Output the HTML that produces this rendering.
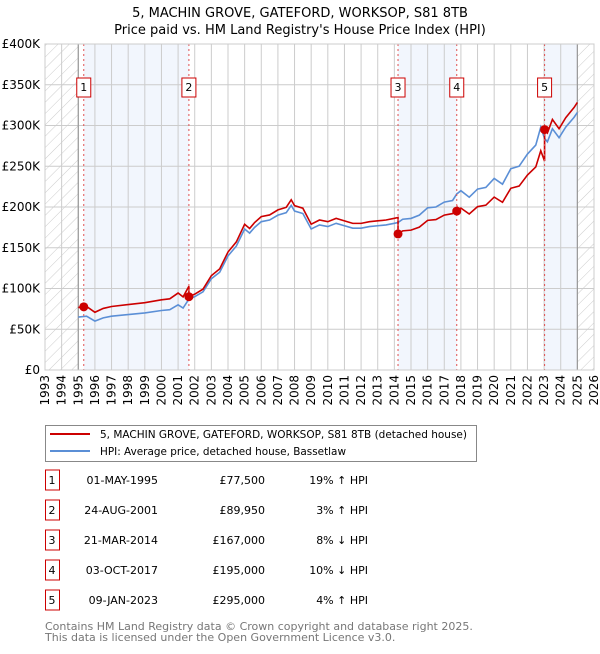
<!DOCTYPE html>
<html><head><meta charset="utf-8"><style>
body{margin:0;background:#fff;font-family:"DejaVu Sans","Liberation Sans",sans-serif;}
svg text{font-family:"DejaVu Sans","Liberation Sans",sans-serif;}
</style></head><body>
<svg id="c" width="600" height="650" xmlns="http://www.w3.org/2000/svg">
<defs><pattern id="hatch" width="8" height="8" patternUnits="userSpaceOnUse" patternTransform="rotate(45)"><line x1="0" y1="0" x2="0" y2="8" stroke="#ccc" stroke-width="1"/></pattern></defs>
<text x="300" y="17" text-anchor="middle" font-size="13" fill="#000">5, MACHIN GROVE, GATEFORD, WORKSOP, S81 8TB</text>
<text x="300" y="34" text-anchor="middle" font-size="13" fill="#000">Price paid vs. HM Land Registry's House Price Index (HPI)</text>
<g id="plot"></g>
<g>
<rect x="45.5" y="425.5" width="431" height="36" fill="#fff" stroke="#888"/>
<line x1="50" y1="434" x2="90" y2="434" stroke="#cc0000" stroke-width="2"/>
<text x="100" y="438" font-size="10.5" textLength="367" lengthAdjust="spacingAndGlyphs">5, MACHIN GROVE, GATEFORD, WORKSOP, S81 8TB (detached house)</text>
<line x1="50" y1="451" x2="90" y2="451" stroke="#5b8fd6" stroke-width="2"/>
<text x="100" y="455" font-size="10.5" textLength="246" lengthAdjust="spacingAndGlyphs">HPI: Average price, detached house, Bassetlaw</text>
</g>
<g id="table"></g>
<text x="45" y="630" font-size="11" fill="#777">Contains HM Land Registry data © Crown copyright and database right 2025.</text>
<text x="45" y="641" font-size="11" fill="#777">This data is licensed under the Open Government Licence v3.0.</text>
</svg>
<script>
const yTicks=[0,50,100,150,200,250,300,350,400];
const yTickLabels=["£0","£50K","£100K","£150K","£200K","£250K","£300K","£350K","£400K"];
const xYears=[1993,1994,1995,1996,1997,1998,1999,2000,2001,2002,2003,2004,2005,2006,2007,2008,2009,2010,2011,2012,2013,2014,2015,2016,2017,2018,2019,2020,2021,2022,2023,2024,2025,2026];
const hpiT=[1995.0,1995.5,1996.0,1996.5,1997,1998,1999,2000,2000.5,2001,2001.3,2001.65,2002,2002.5,2003,2003.5,2004,2004.5,2005,2005.3,2005.6,2006,2006.5,2007,2007.5,2007.8,2008,2008.5,2009,2009.5,2010,2010.5,2011,2011.5,2012,2012.5,2013,2013.5,2014,2014.22,2014.5,2015,2015.5,2016,2016.5,2017,2017.5,2017.75,2018,2018.5,2019,2019.5,2020,2020.5,2021,2021.5,2022,2022.5,2022.8,2023.03,2023.2,2023.5,2023.9,2024.3,2024.8,2025.0];
const hpiV=[65,66,60,64,66,68,70,73,74,80,76,87,90,96,112,120,140,152,173,168,175,182,184,190,193,202,195,192,173,178,176,180,177,174,174,176,177,178,180,181,185,186,190,199,200,206,208,216,220,212,222,224,235,228,247,250,265,276,298,284,280,296,285,298,310,316];
const saleT=[1995.33,2001.65,2014.22,2017.75,2023.03];
const salePrice=[77.5,89.95,167,195,295];
const saleLabels=["1","2","3","4","5"];
const saleDates=["01-MAY-1995","24-AUG-2001","21-MAR-2014","03-OCT-2017","09-JAN-2023"];
const salePriceText=["£77,500","£89,950","£167,000","£195,000","£295,000"];
const saleHpiText=["19% ↑ HPI","3% ↑ HPI","8% ↓ HPI","10% ↓ HPI","4% ↑ HPI"];

const NS="http://www.w3.org/2000/svg";
const X0=45,X1=594,Y0=370,Y1=44;
const xs=t=>X0+(t-1993)/(2026-1993)*(X1-X0);
const ys=v=>Y0-v/400*(Y0-Y1);
function mk(tag,attrs,parent){const e=document.createElementNS(NS,tag);for(const k in attrs)e.setAttribute(k,attrs[k]);parent.appendChild(e);return e;}
const plot=document.getElementById('plot');
const shadeEnds=[saleT[1],saleT[3],2025.0];
[0,2,4].forEach((i,j)=>{const r=mk('rect',{x:xs(saleT[i]),y:Y1,width:xs(shadeEnds[j])-xs(saleT[i]),height:Y0-Y1,fill:'#eef3fc',opacity:0.75},plot);

});
const h1=mk('rect',{x:X0,y:Y1,width:xs(1995)-X0,height:Y0-Y1,fill:'url(#hatch)'},plot);


const h2=mk('rect',{x:xs(2025),y:Y1,width:X1-xs(2025),height:Y0-Y1,fill:'url(#hatch)'},plot);


yTicks.forEach((v,i)=>{const l=mk('line',{x1:X0,x2:X1,y1:ys(v),y2:ys(v),stroke:'#ccc'},plot);


const t=mk('text',{x:40,y:ys(v)+4,'text-anchor':'end','font-size':12},plot);t.textContent=yTickLabels[i];

});
xYears.forEach(yr=>{const l=mk('line',{x1:xs(yr),x2:xs(yr),y1:Y1,y2:Y0,stroke:'#ccc'},plot);


const t=mk('text',{x:0,y:0,'text-anchor':'end','font-size':12,transform:`translate(${xs(yr)+4},375) rotate(-90)`},plot);t.textContent=yr;

});
[1995,2025].forEach(yr=>{const l=mk('line',{x1:xs(yr),x2:xs(yr),y1:Y1,y2:Y0,stroke:'#999','stroke-width':1.2},plot);

});
function hpiAt(t){for(let i=0;i<hpiT.length-1;i++){if(t<=hpiT[i+1])return hpiV[i]+(hpiV[i+1]-hpiV[i])*(t-hpiT[i])/(hpiT[i+1]-hpiT[i]);}return hpiV[hpiV.length-1];}
const hp=mk('polyline',{points:hpiT.map((t,i)=>xs(t)+','+ys(hpiV[i])).join(' '),fill:'none',stroke:'#5b8fd6','stroke-width':1.6},plot);


let pts=[];
for(let s=0;s<saleT.length;s++){
 const start=s===0?1995.0:saleT[s], end=s<saleT.length-1?saleT[s+1]:2025.0;
 const f=salePrice[s]/hpiAt(saleT[s]);
 const ts=[start,...hpiT.filter(t=>t>start&&t<end),end];
 ts.forEach(t=>pts.push(xs(t)+','+ys(hpiAt(t)*f)));
 if(s<saleT.length-1){pts.push(xs(end)+','+ys(salePrice[s+1]));}
}
const rp=mk('polyline',{points:pts.join(' '),fill:'none',stroke:'#cc0000','stroke-width':1.6},plot);


saleT.forEach((t,i)=>{const v=mk('line',{x1:xs(t),x2:xs(t),y1:Y1,y2:Y0,stroke:'#e05050','stroke-dasharray':'2,3','stroke-width':1},plot);


const c=mk('circle',{cx:xs(t),cy:ys(salePrice[i]),r:4.5,fill:'#cc0000'},plot);


const b=mk('rect',{x:xs(t)-7,y:78,width:14,height:19,fill:'#fff',stroke:'#cc0000'},plot);


const tx=mk('text',{x:xs(t),y:91,'text-anchor':'middle','font-size':11},plot);tx.textContent=saleLabels[i];

});
mk('rect',{x:X0,y:Y1,width:X1-X0,height:Y0-Y1,fill:'none',stroke:'#ccc'},plot);
const tb=document.getElementById('table');
saleT.forEach((t,i)=>{const y=483+i*30;
const b=mk('rect',{x:45.5,y:y-13,width:14,height:20,fill:'#fff',stroke:'#cc0000'},tb);


const cells=[[52,'middle',saleLabels[i]],[158,'end',saleDates[i]],[265,'end',salePriceText[i]],[368,'end',saleHpiText[i]]];
cells.forEach(c=>{const e=mk('text',{x:c[0],y:y+1,'text-anchor':c[1],'font-size':11},tb);e.textContent=c[2];

});});
</script>
</body></html>
